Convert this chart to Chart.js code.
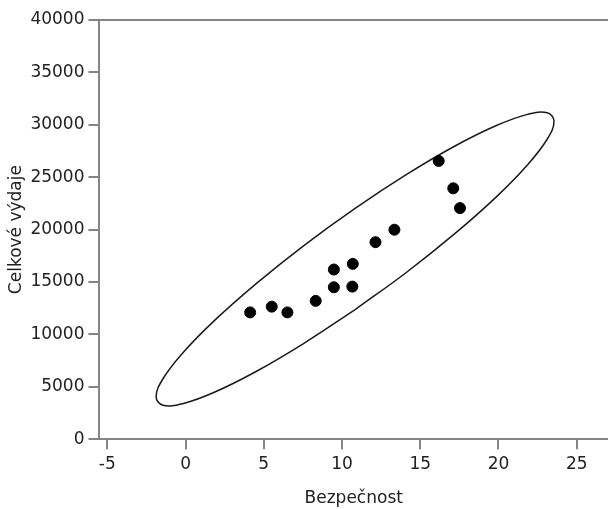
<!DOCTYPE html>
<html>
<head>
<meta charset="utf-8">
<script src="https://cdn.jsdelivr.net/npm/chart.js@4/dist/chart.umd.min.js"></script>
<style>
    body { margin: 0; background: #fff; }
    #wrap { width: 608px; height: 509px; position: relative; }
</style>
</head>
<body>
<div id="wrap"><canvas id="graf"></canvas></div>
<script>
// body dat (Bezpečnost, Celkové výdaje)
const bezpecnost = [4.13, 5.51, 6.51, 8.32, 9.48, 9.48, 10.66, 10.69, 12.14, 13.35, 16.18, 17.11, 17.54];
const vydaje = [12100, 12650, 12100, 13200, 14500, 16190, 14560, 16730, 18800, 19990, 26550, 23940, 22050];

// obrys elipsy (začíná uprostřed spodní hrany)
const elipsaX = [10.84, 7.54, 4.48, 1.84, -0.18, -1.45, -1.88, -1.45, -0.18, 1.84, 4.48, 7.54,
    10.84, 14.13, 17.19, 19.83, 21.85, 23.12, 23.55, 23.12, 21.85, 19.83, 17.19, 14.13, 10.84];
const elipsaY = [12365, 9127, 6437, 4481, 3392, 3243, 4045, 5743, 8222, 11311, 14801, 18455,
    22023, 25261, 27951, 29907, 30996, 31145, 30343, 28645, 26166, 23077, 19587, 15933, 12365];

const xTicks = [-5, 0, 5, 10, 15, 20, 25];
const yTicks = [0, 5000, 10000, 15000, 20000, 25000, 30000, 35000, 40000];

const seda = "#858585";
const text = "#222";
const font = { family: "'DejaVu Sans', sans-serif", size: 17 };

const body = bezpecnost.map((x, i) => ({ x: x, y: vydaje[i] }));
const elipsa = elipsaX.map((x, i) => ({ x: x, y: elipsaY[i] }));

new Chart(document.getElementById("graf"), {
    type: "scatter",
    data: {
        datasets: [
            {
                data: body,
                backgroundColor: "#000",
                borderColor: "#000",
                pointRadius: 5.5,
                order: 0
            },
            {
                data: elipsa,
                showLine: true,
                borderColor: "#1a1a1a",
                borderWidth: 1.5,
                pointRadius: 0,
                tension: 0.4,
                fill: false,
                order: 1
            }
        ]
    },
    options: {
        responsive: true,
        maintainAspectRatio: false,
        animation: false,
        layout: { autoPadding: false, padding: { top: 20, left: 6, right: 0, bottom: 0 } },
        plugins: {
            legend: { display: false },
            tooltip: { enabled: false }
        },
        scales: {
            x: {
                type: "linear",
                min: -5.5,
                max: 27,
                afterBuildTicks: function(scale) {
                    scale.ticks = xTicks.map(v => ({ value: v }));
                },
                border: { display: true, color: seda, width: 2 },
                grid: { drawOnChartArea: false, drawTicks: true, tickLength: 10, color: seda, lineWidth: 2 },
                ticks: {
                    color: text, font: font, padding: 5,
                    callback: function(value) { return String(value); }
                },
                title: { display: true, text: "Bezpečnost", color: text, font: font, padding: { top: 9, bottom: 0 } }
            },
            y: {
                type: "linear",
                min: 0,
                max: 40000,
                afterBuildTicks: function(scale) {
                    scale.ticks = yTicks.map(v => ({ value: v }));
                },
                border: { display: true, color: seda, width: 2 },
                grid: {
                    drawOnChartArea: true,
                    drawTicks: true,
                    tickLength: 11,
                    lineWidth: 2,
                    tickColor: seda,
                    color: function(ctx) {
                        return ctx.tick && ctx.tick.value === 40000 ? seda : "transparent";
                    }
                },
                ticks: {
                    color: text, font: font, padding: 4,
                    callback: function(value) { return String(value); }
                },
                title: { display: true, text: "Celkové výdaje", color: text, font: font, padding: { top: 0, bottom: 0 } }
            }
        }
    }
});
</script>
</body>
</html>
